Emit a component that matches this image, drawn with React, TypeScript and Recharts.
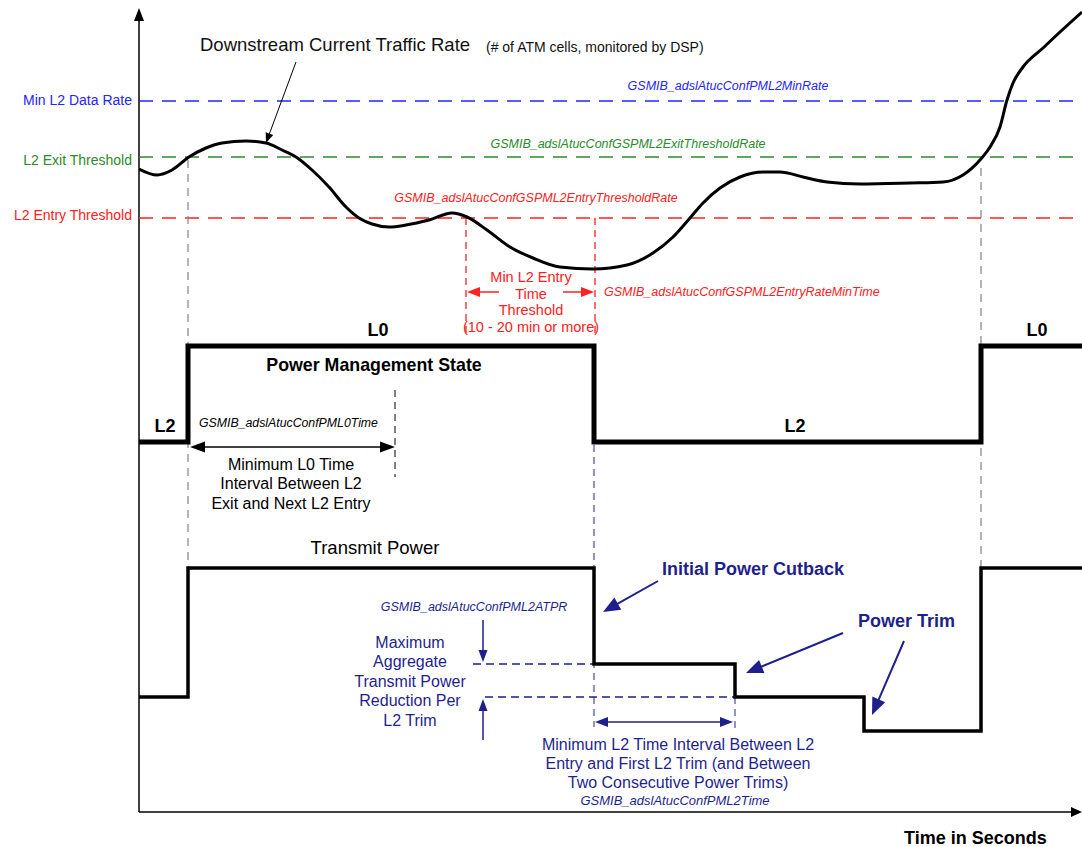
import { ComposedChart, Line, XAxis, YAxis, ReferenceLine, ReferenceDot } from "recharts";

const FONT = '"Liberation Sans", Arial, Helvetica, sans-serif';

// diagram units: time 0..943 to the right, level 0..804 upward
const traffic = [
  { t: 0, rate: 643 },
  { t: 18, rate: 637 },
  { t: 33, rate: 642 },
  { t: 50, rate: 655 },
  { t: 67, rate: 664 },
  { t: 83, rate: 669 },
  { t: 107, rate: 671 },
  { t: 127, rate: 669 },
  { t: 143, rate: 662 },
  { t: 157, rate: 655 },
  { t: 173, rate: 642 },
  { t: 190, rate: 625 },
  { t: 207, rate: 605 },
  { t: 220, rate: 594 },
  { t: 233, rate: 588 },
  { t: 250, rate: 585 },
  { t: 267, rate: 587 },
  { t: 290, rate: 592 },
  { t: 313, rate: 599 },
  { t: 328, rate: 595 },
  { t: 348, rate: 582 },
  { t: 371, rate: 565 },
  { t: 394, rate: 554 },
  { t: 421, rate: 545 },
  { t: 454, rate: 543 },
  { t: 488, rate: 547 },
  { t: 514, rate: 559 },
  { t: 534, rate: 575 },
  { t: 551, rate: 594 },
  { t: 564, rate: 609 },
  { t: 581, rate: 624 },
  { t: 601, rate: 635 },
  { t: 624, rate: 640 },
  { t: 641, rate: 640 },
  { t: 664, rate: 635 },
  { t: 688, rate: 630 },
  { t: 721, rate: 628 },
  { t: 771, rate: 629 },
  { t: 804, rate: 630 },
  { t: 824, rate: 637 },
  { t: 841, rate: 652 },
  { t: 851, rate: 665 },
  { t: 861, rate: 685 },
  { t: 868, rate: 712 },
  { t: 874, rate: 729 },
  { t: 884, rate: 745 },
  { t: 904, rate: 764 },
  { t: 921, rate: 780 },
  { t: 943, rate: 800 },
];

const stateLevel = { L0: 466, L2: 370 };

const powerState = [
  { t: 0, level: stateLevel.L2 },
  { t: 49, level: stateLevel.L0 },
  { t: 455, level: stateLevel.L2 },
  { t: 842, level: stateLevel.L0 },
  { t: 943, level: stateLevel.L0 },
];

const transmitPower = [
  { t: 0, level: 115 },
  { t: 49, level: 244 },
  { t: 455, level: 148 },
  { t: 596, level: 115 },
  { t: 725, level: 81 },
  { t: 842, level: 244 },
  { t: 943, level: 244 },
];

const thresholdNames = ["Min L2 Data Rate", "L2 Exit Threshold", "L2 Entry Threshold"];
const thresholdMibs = [
  "GSMIB_adslAtucConfPML2MinRate",
  "GSMIB_adslAtucConfGSPML2ExitThresholdRate",
  "GSMIB_adslAtucConfGSPML2EntryThresholdRate",
];
const thresholdRates = [711, 655, 594];

// event times
const l2Exit = 49;
const l0TimeEnd = 256;
const entryBelow = 327;
const l2Entry = 455;
const firstTrim = 596;
const l2Exit2 = 842;

const BLUE = "#2424ff";
const GREEN = "#2b8a2b";
const RED = "#ff2020";
const NAVY = "#1f1f8c";
const GRAY = "#8c8c8c";
const thresholdColors = [BLUE, GREEN, RED];
const mibPos = [
  [589, 726],
  [489, 668],
  [397, 614],
];
const namePos = [712, 652, 597];

type Pt = [number, number];

type NoteStyle = {
  size: number;
  color: string;
  weight?: string;
  italic?: boolean;
  anchor?: "start" | "middle" | "end";
  gap?: number;
};

function note(id: string, t: number, v: number, lines: string | string[], s: NoteStyle) {
  const rows = Array.isArray(lines) ? lines : [lines];
  return (
    <ReferenceDot
      key={id}
      x={t}
      y={v}
      r={0}
      ifOverflow="visible"
      shape={(p: any) => (
        <text
          x={p.cx}
          y={p.cy}
          fill={s.color}
          fontSize={s.size}
          fontFamily={FONT}
          fontWeight={s.weight ?? "normal"}
          fontStyle={s.italic ? "italic" : "normal"}
          textAnchor={s.anchor ?? "middle"}
        >
          {rows.map((r, i) => (
            <tspan key={i} x={p.cx} dy={i === 0 ? "0.35em" : s.gap ?? 19}>
              {r}
            </tspan>
          ))}
        </text>
      )}
    />
  );
}

function head(id: string, tip: Pt, ang: number, color: string, len: number, half: number) {
  return (
    <ReferenceDot
      key={id}
      x={tip[0]}
      y={tip[1]}
      r={0}
      ifOverflow="visible"
      shape={(p: any) => {
        const c = Math.cos(ang);
        const s = Math.sin(ang);
        const bx = p.cx - len * c;
        const by = p.cy - len * s;
        const pts = `${p.cx},${p.cy} ${bx - half * s},${by + half * c} ${bx + half * s},${by - half * c}`;
        return <polygon points={pts} fill={color} stroke="none" />;
      }}
    />
  );
}

function arrow(id: string, from: Pt, to: Pt, color: string, width: number, len: number, half: number, both = false) {
  const dx = to[0] - from[0];
  const dv = to[1] - from[1];
  const d = Math.hypot(dx, dv);
  const ux = dx / d;
  const uv = dv / d;
  const ang = Math.atan2(-dv, dx);
  const cut = len * 0.7;
  const a: Pt = both ? [from[0] + ux * cut, from[1] + uv * cut] : from;
  const b: Pt = [to[0] - ux * cut, to[1] - uv * cut];
  const out = [
    <ReferenceLine
      key={id}
      segment={[
        { x: a[0], y: a[1] },
        { x: b[0], y: b[1] },
      ]}
      stroke={color}
      strokeWidth={width}
      ifOverflow="visible"
    />,
    head(id + "-h", to, ang, color, len, half),
  ];
  if (both) out.push(head(id + "-t", from, ang + Math.PI, color, len, half));
  return out;
}

function guide(id: string, from: Pt, to: Pt, color: string, dash: string, width = 1.3) {
  return (
    <ReferenceLine
      key={id}
      segment={[
        { x: from[0], y: from[1] },
        { x: to[0], y: to[1] },
      ]}
      stroke={color}
      strokeDasharray={dash}
      strokeWidth={width}
      ifOverflow="visible"
    />
  );
}

export default function App() {
  return (
    <div style={{ position: "absolute", left: 0, top: 0, background: "#fff", fontFamily: FONT }}>
      <ComposedChart width={1082} height={847} margin={{ top: 8, right: 0, bottom: 35, left: 139 }}>
        <XAxis type="number" dataKey="t" domain={[0, 943]} allowDataOverflow hide />
        <YAxis type="number" domain={[0, 804]} allowDataOverflow hide />

        {/* axes with arrow heads */}
        <ReferenceLine segment={[{ x: 0, y: 0 }, { x: 0, y: 795 }]} stroke="#000" strokeWidth={1.5} ifOverflow="visible" />
        <ReferenceLine segment={[{ x: 0, y: 0 }, { x: 934, y: 0 }]} stroke="#000" strokeWidth={1.5} ifOverflow="visible" />
        {head("yax", [0, 804], -Math.PI / 2, "#000", 13, 5)}
        {head("xax", [943, 0], 0, "#000", 11, 5)}

        {thresholdRates.map((r, i) => (
          <ReferenceLine
            key={"th" + i}
            segment={[
              { x: 0, y: r },
              { x: 943, y: r },
            ]}
            stroke={thresholdColors[i]}
            strokeWidth={1.6}
            strokeDasharray="14 9"
          />
        ))}
        {thresholdNames.map((n, i) =>
          note("tn" + i, -7, namePos[i], n, { size: 14, color: thresholdColors[i], anchor: "end" })
        )}
        {thresholdMibs.map((m, i) =>
          note("tm" + i, mibPos[i][0], mibPos[i][1], m, { size: 12.5, color: thresholdColors[i], italic: true })
        )}

        {guide("g1", [l2Exit, 652], [l2Exit, 244], GRAY, "8 6")}
        {guide("g2", [l2Exit2, 644], [l2Exit2, 244], GRAY, "8 6")}
        {guide("r1", [entryBelow, 594], [entryBelow, 477], RED, "7 5")}
        {guide("r2", [l2Entry + 1, 594], [l2Entry + 1, 477], RED, "7 5")}
        {guide("k1", [l0TimeEnd, 422], [l0TimeEnd, 335], "#000", "7 5", 1)}
        {guide("n1", [l2Entry, 367], [l2Entry, 85], "#5a5aa8", "7 5")}
        {guide("n2", [firstTrim, 115], [firstTrim, 79], "#5a5aa8", "7 5")}
        {guide("n3", [334, 148], [l2Entry, 148], NAVY, "8 5")}
        {guide("n4", [346, 115], [firstTrim, 115], NAVY, "8 5")}

        <Line
          data={traffic}
          dataKey="rate"
          type="monotone"
          stroke="#000"
          strokeWidth={3}
          dot={false}
          activeDot={false}
          isAnimationActive={false}
        />
        <Line
          data={powerState}
          dataKey="level"
          type="stepAfter"
          stroke="#000"
          strokeWidth={5}
          strokeLinejoin="miter"
          dot={false}
          activeDot={false}
          isAnimationActive={false}
        />
        <Line
          data={transmitPower}
          dataKey="level"
          type="stepAfter"
          stroke="#000"
          strokeWidth={3.5}
          strokeLinejoin="miter"
          dot={false}
          activeDot={false}
          isAnimationActive={false}
        />

        {note("title", 61, 767, "Downstream Current Traffic Rate", { size: 18.5, color: "#111", anchor: "start" })}
        {note("subtitle", 347, 765, "(# of ATM cells, monitored by DSP)", { size: 14, color: "#111", anchor: "start" })}
        {arrow("ta", [157, 750], [127, 669], "#000", 1, 10, 4)}

        {note("minl2", 392, 535, ["Min L2 Entry", "Time", "Threshold", "(10 - 20 min or more)"], {
          size: 14.5,
          color: RED,
          gap: 16.5,
        })}
        {arrow("ra1", [360, 520], [entryBelow + 1, 520], RED, 1.5, 13, 5)}
        {arrow("ra2", [424, 520], [l2Entry, 520], RED, 1.5, 13, 5)}
        {note("minl2mib", 465, 520, "GSMIB_adslAtucConfGSPML2EntryRateMinTime", {
          size: 12.5,
          color: RED,
          italic: true,
          anchor: "start",
        })}

        {note("l0a", 239, 482, "L0", { size: 18, color: "#000", weight: "bold" })}
        {note("l0b", 898, 482, "L0", { size: 18, color: "#000", weight: "bold" })}
        {note("l2a", 26, 386, "L2", { size: 18, color: "#000", weight: "bold" })}
        {note("l2b", 656, 386, "L2", { size: 18, color: "#000", weight: "bold" })}
        {note("pms", 235, 447, "Power Management State", { size: 17.8, color: "#000", weight: "bold" })}
        {note("l0mib", 60, 389, "GSMIB_adslAtucConfPML0Time", {
          size: 12.3,
          color: "#000",
          italic: true,
          anchor: "start",
        })}
        {arrow("l0arr", [l2Exit + 2, 365], [l0TimeEnd, 365], "#000", 1.5, 15, 5.5, true)}
        {note("l0txt", 152, 348, ["Minimum L0 Time", "Interval Between L2", "Exit and Next L2 Entry"], {
          size: 16,
          color: "#000",
          gap: 19.5,
        })}

        {note("tp", 236, 264, "Transmit Power", { size: 18.5, color: "#000" })}
        {note("atpr", 335, 205, "GSMIB_adslAtucConfPML2ATPR", { size: 12.5, color: NAVY, italic: true })}
        {arrow("dn", [344, 192], [344, 150], NAVY, 1.5, 12, 4.5)}
        {arrow("up", [344, 72], [344, 113], NAVY, 1.5, 12, 4.5)}
        {note("atprtxt", 271, 170, ["Maximum", "Aggregate", "Transmit Power", "Reduction Per", "L2 Trim"], {
          size: 16,
          color: NAVY,
          gap: 19.5,
        })}
        {note("ipc", 523, 243, "Initial Power Cutback", { size: 18, color: NAVY, weight: "bold", anchor: "start" })}
        {arrow("ipca", [519, 231], [464, 200], NAVY, 2, 17, 7)}
        {note("ptr", 719, 191, "Power Trim", { size: 18, color: NAVY, weight: "bold", anchor: "start" })}
        {arrow("pt1", [704, 179], [607, 139], NAVY, 2, 17, 7)}
        {arrow("pt2", [765, 171], [733, 97], NAVY, 2, 17, 7)}
        {arrow("l2arr", [l2Entry + 1, 90], [firstTrim - 2, 90], NAVY, 1.5, 13, 5, true)}
        {note(
          "l2txt",
          539,
          68,
          ["Minimum L2 Time Interval Between L2", "Entry and First L2 Trim (and Between", "Two Consecutive Power Trims)"],
          { size: 16, color: NAVY, gap: 19.3 }
        )}
        {note("l2mib", 536, 12, "GSMIB_adslAtucConfPML2Time", { size: 13, color: NAVY, italic: true })}

        {note("xlab", 765, -26, "Time in Seconds", { size: 18, color: "#000", weight: "bold", anchor: "start" })}
      </ComposedChart>
    </div>
  );
}
